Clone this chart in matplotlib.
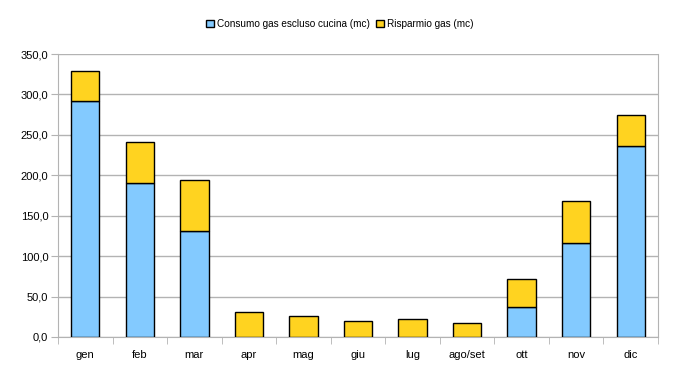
import matplotlib
matplotlib.use("Agg")
import matplotlib.pyplot as plt
import numpy as np

categories = ["gen", "feb", "mar", "apr", "mag", "giu", "lug", "ago/set", "ott", "nov", "dic"]
consumo = [291.5, 190.0, 130.7, 0, 0, 0, 0, 0, 36.7, 115.9, 235.8]
risparmio = [37.1, 50.8, 63.1, 30.5, 25.6, 19.4, 21.9, 16.9, 34.7, 52.3, 38.4]
yticks = [0, 50, 100, 150, 200, 250, 300, 350]

plt.rcParams['font.family'] = ['Liberation Sans', 'DejaVu Sans']

fig = plt.figure(figsize=(6.8, 3.86), dpi=100)
ax = fig.add_axes([58/680, 1-337/386, 600/680, 283/386])

x = np.arange(len(categories))
w = 0.52
ax.bar(x, consumo, w, color="#83caff", edgecolor="black", linewidth=1.0,
       label="Consumo gas escluso cucina (mc)", zorder=3)
ax.bar(x, risparmio, w, bottom=consumo, color="#ffd320", edgecolor="black", linewidth=1.0,
       label="Risparmio gas (mc)", zorder=3)

ax.set_xlim(-0.5, len(categories) - 0.5)
ax.set_ylim(0, 350)
ax.set_yticks(yticks)
ax.set_yticklabels([f"{v:.1f}".replace(".", ",") for v in yticks], fontsize=8)
ax.set_xticks(x)
ax.set_xticklabels(categories, fontsize=8)
ax.tick_params(axis='x', length=0, pad=9)
ax.set_xticks(np.arange(-0.5, len(categories), 1), minor=True)
ax.tick_params(axis='x', which='minor', length=5, color="#b3b3b3")
ax.tick_params(axis='y', length=5, color="#b3b3b3", pad=2)
ax.grid(axis='y', color="#b3b3b3", linewidth=1.0, zorder=0)
ax.spines["top"].set_visible(False)
for s in ["left", "right", "bottom"]:
    ax.spines[s].set_color("#b3b3b3")

fig.legend(loc="upper center", bbox_to_anchor=(0.5, 1-10/386), ncol=2, frameon=False,
           fontsize=7.2, handlelength=0.8, handleheight=0.8, handletextpad=0.3, columnspacing=0.6)

fig.savefig("out.png", dpi=100)
